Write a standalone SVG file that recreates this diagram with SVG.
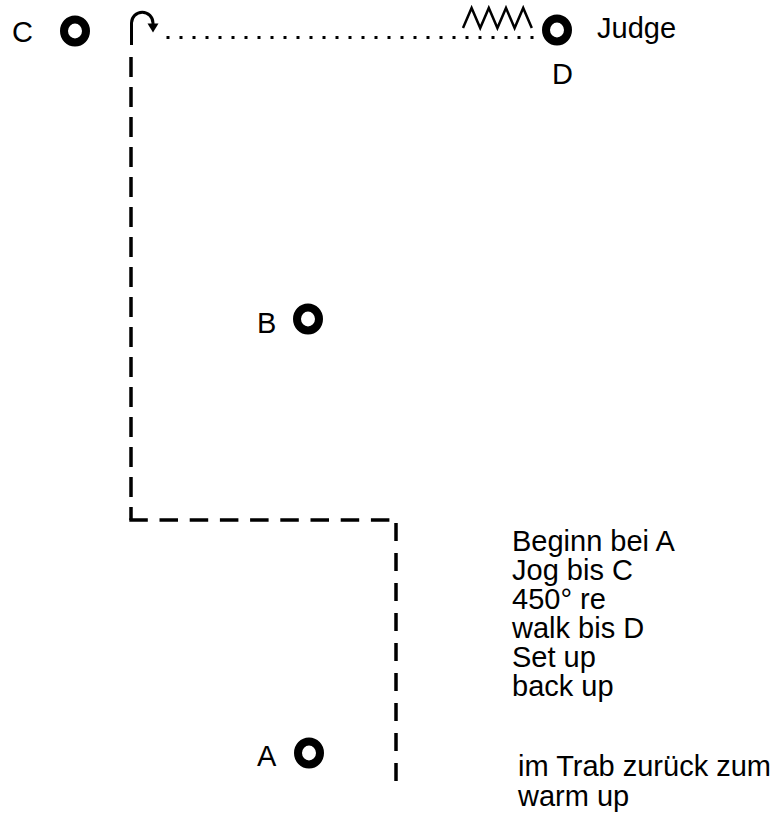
<svg xmlns="http://www.w3.org/2000/svg" width="781" height="815" viewBox="0 0 781 815">
<style>
text{font-family:"Liberation Sans",Arial,sans-serif;font-size:29px;fill:#000}
.ring{fill:none;stroke:#000;stroke-width:8}
.dash{fill:none;stroke:#000;stroke-width:3.5}
</style>
<rect width="781" height="815" fill="#fff"/>
<g id="connectors">
<path class="dash" d="M131,57 V520" stroke-dasharray="20 10"/>
<path class="dash" d="M129.3,520 H390" stroke-dasharray="18.5 11.7"/>
<path class="dash" d="M396,523 V782" stroke-dasharray="18 12"/>
<path d="M131.5,45 V23 A10.75,10.75 0 0 1 153,23 V25" fill="none" stroke="#000" stroke-width="3"/>
<polygon points="147.5,23.5 158.5,23.5 153,32.5" fill="#000"/>
<line x1="166.5" y1="37.5" x2="535" y2="37.5" stroke="#000" stroke-width="3" stroke-dasharray="3 10"/>
<polyline points="463,28 471.6,8 480.2,28 488.8,8 497.4,28 506,8 514.6,28 523.2,8 531.8,28" fill="none" stroke="#000" stroke-width="2.5" stroke-linejoin="miter"/>
</g>
<g id="node-C">
<ellipse class="ring" cx="75" cy="31" rx="11" ry="11.5"/>
<text x="12" y="42">C</text>
</g>
<g id="node-D">
<ellipse class="ring" cx="557" cy="30" rx="11" ry="11.5"/>
<text x="597" y="38">Judge</text>
<text x="552" y="84">D</text>
</g>
<g id="node-B">
<ellipse class="ring" cx="308" cy="319" rx="11" ry="11.5"/>
<text x="257" y="333">B</text>
</g>
<g id="node-A">
<ellipse class="ring" cx="309" cy="753" rx="11" ry="11.5"/>
<text x="257" y="766">A</text>
</g>
<g id="notes">
<text x="512" y="551">Beginn bei A</text>
<text x="512" y="580">Jog bis C</text>
<text x="512" y="609">450° re</text>
<text x="512" y="638">walk bis D</text>
<text x="512" y="667">Set up</text>
<text x="512" y="696">back up</text>
<text x="518" y="776">im Trab zurück zum</text>
<text x="518" y="806">warm up</text>
</g>
</svg>
